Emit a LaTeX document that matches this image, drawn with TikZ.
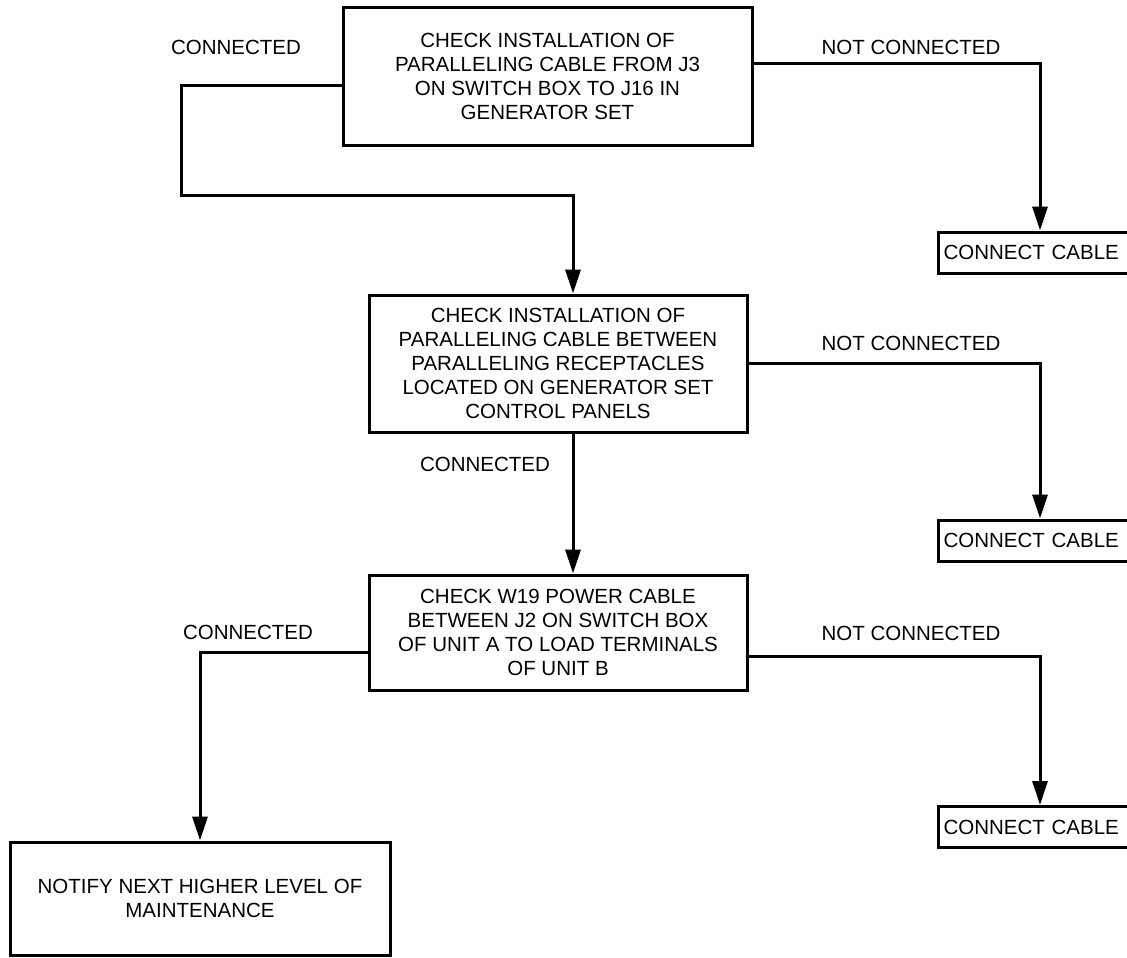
\documentclass[tikz,border=0pt]{standalone}
\usepackage{fontspec}
\setmainfont{Liberation Sans}
\usetikzlibrary{arrows.meta,positioning}

\begin{document}
\begin{tikzpicture}[x=1pt, y=-1pt, >={Triangle[length=24pt,width=15pt]},
  every node/.style={font=\fontsize{20.5}{24}\selectfont},
  box/.style={draw, line width=3pt, align=center, inner sep=0pt},
  cablebox/.style={draw, line width=3pt, anchor=west, inner sep=3pt, minimum width=240pt, minimum height=41pt, text width=230pt, align=left},
  flow/.style={->, line width=3pt}]
  \clip (0,0) rectangle (1127,958);

  \node[box, minimum width=409pt, minimum height=137pt] (chk1) at (547.5,76.5) {CHECK INSTALLATION OF\\PARALLELING CABLE FROM J3\\ON SWITCH BOX TO J16 IN\\GENERATOR SET};
  \node[box, minimum width=378pt, minimum height=137pt] (chk2) at (558,363.5) {CHECK INSTALLATION OF\\PARALLELING CABLE BETWEEN\\PARALLELING RECEPTACLES\\LOCATED ON GENERATOR SET\\CONTROL PANELS};
  \node[box, minimum width=378pt, minimum height=115pt] (chk3) at (558,632.5) {CHECK W19 POWER CABLE\\BETWEEN J2 ON SWITCH BOX\\OF UNIT A TO LOAD TERMINALS\\OF UNIT B};
  \node[box, minimum width=380pt, minimum height=113pt] (note) at (200,898.5) {NOTIFY NEXT HIGHER LEVEL OF\\MAINTENANCE};

  \node[cablebox] (cc1) at (937,252.5) {CONNECT CABLE};
  \node[cablebox] (cc2) at (937,540.5) {CONNECT CABLE};
  \node[cablebox] (cc3) at (937,827) {CONNECT CABLE};

  \node (yes1) at (236,47) {CONNECTED};
  \node (no1) at (911,47) {NOT CONNECTED};
  \node (no2) at (911,343) {NOT CONNECTED};
  \node (yes2) at (485,464) {CONNECTED};
  \node (yes3) at (248,632) {CONNECTED};
  \node (no3) at (911,633) {NOT CONNECTED};

  \coordinate (bend1) at (181,195);
  \draw[flow] ([yshift=-8.5pt]chk1.west) -| (bend1) -| ([xshift=15pt]chk2.north);
  \draw[flow] ([yshift=12.5pt]chk1.east) -| ([xshift=103pt]cc1.north west);
  \draw[flow] (chk2.east) -| ([xshift=103pt]cc2.north west);
  \draw[flow] ([xshift=15pt]chk2.south) -- ([xshift=15pt]chk3.north);
  \draw[flow] ([yshift=-20pt]chk3.west) -| (note.north);
  \draw[flow] ([yshift=-24pt]chk3.east) -| ([xshift=103pt]cc3.north west);
\end{tikzpicture}
\end{document}
